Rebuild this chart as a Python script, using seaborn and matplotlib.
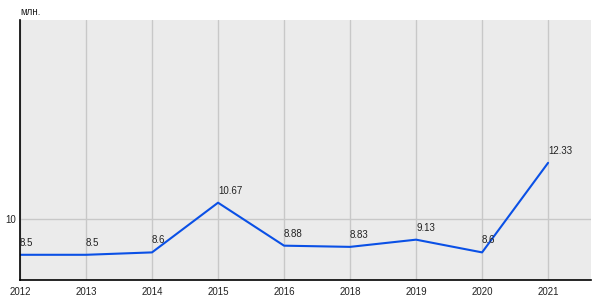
import matplotlib
matplotlib.use("Agg")
import matplotlib.pyplot as plt
import seaborn as sns
import pandas as pd

years = ["2012", "2013", "2014", "2015", "2016", "2018", "2019", "2020", "2021"]
values = [8.5, 8.5, 8.6, 10.67, 8.88, 8.83, 9.13, 8.6, 12.33]
labels = ["8.5", "8.5", "8.6", "10.67", "8.88", "8.83", "9.13", "8.6", "12.33"]
unit = "млн."

sns.set_theme(style="white")
plt.rcParams["font.family"] = ["Liberation Sans", "DejaVu Sans"]

df = pd.DataFrame({"year": years, "value": values, "pos": range(len(years))})

fig = plt.figure(figsize=(6, 3), dpi=100)
ax = fig.add_axes([20 / 600, 20 / 300, 571 / 600, 260 / 300])
ax.set_facecolor("#EBEBEB")

sns.lineplot(data=df, x="pos", y="value", ax=ax, color="#0A50E6", linewidth=1.5)

for p, v, t in zip(df["pos"], values, labels):
    ax.annotate(t, (p, v), xytext=(0, 5), textcoords="offset points",
                ha="left", va="bottom", fontsize=7, color="#222222")

ax.set_xlim(0, 8.65)
ax.set_ylim(7.45, 18.28)
ax.set_xticks(list(df["pos"]))
ax.set_xticklabels(years, fontsize=7, color="#222222")
ax.set_yticks([10])
ax.set_yticklabels(["10"], fontsize=7, color="#222222")
ax.grid(True, color="#C8C8C8", linewidth=1)
ax.set_axisbelow(True)
ax.set_xlabel("")
ax.set_ylabel("")
for s in ["top", "right"]:
    ax.spines[s].set_visible(False)
for s in ["left", "bottom"]:
    ax.spines[s].set_visible(True)
    ax.spines[s].set_color("black")
    ax.spines[s].set_linewidth(1.2)
ax.tick_params(axis="x", length=0, pad=5)
ax.tick_params(axis="y", length=4, direction="in", color="black", pad=3)

fig.text(20 / 600, 1 - 12 / 300, unit, fontsize=7, color="#222222", va="center", ha="left")

fig.savefig("out.png", dpi=100)
